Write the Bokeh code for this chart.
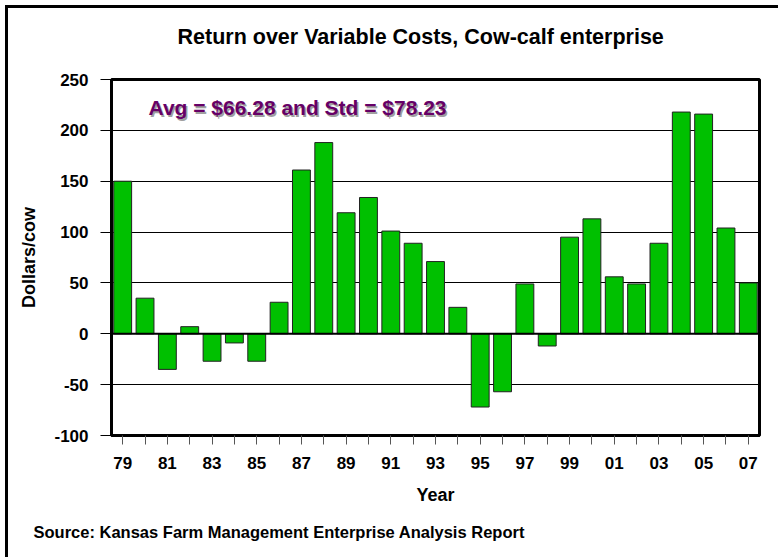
from bokeh.plotting import figure
from bokeh.models import Range1d, FixedTicker, Label, Span, Title
from bokeh.embed import file_html
from bokeh.resources import INLINE

# ---- data ----
years = list(range(1979, 2008))
values = [150, 35, -35, 7, -27, -9, -27, 31, 161, 188, 119, 134, 101, 89, 71, 26,
          -72, -57, 49, -12, 95, 113, 56, 49, 89, 218, 216, 104, 50]
tick_labels = ["79", "", "81", "", "83", "", "85", "", "87", "", "89", "", "91", "",
               "93", "", "95", "", "97", "", "99", "", "01", "", "03", "", "05", "", "07"]
y_ticks = [-100, -50, 0, 50, 100, 150, 200, 250]
y_tick_labels = ["-100", "-50", "0", "50", "100", "150", "200", "250"]

title_text = "Return over Variable Costs, Cow-calf enterprise"
stat_text = "Avg = $66.28 and Std = $78.23"
source_text = "Source: Kansas Farm Management Enterprise Analysis Report"

FONT = "Liberation Sans"

p = figure(width=773, height=552, output_backend="svg", toolbar_location=None,
           x_range=Range1d(1978.5, 2007.5), y_range=Range1d(-100, 250),
           min_border_left=103, min_border_right=22, min_border_top=71,
           min_border_bottom=125)
p.styles = {"margin-left": "5px", "margin-top": "5px",
            "border-left": "3px solid black", "border-top": "3px solid black"}

p.title.text = title_text
p.title.text_font = FONT
p.title.text_font_style = "bold"
p.title.text_font_size = "21.5px"
p.title.text_color = "black"
p.title.align = "left"
p.title.offset = 66
p.title.standoff = 0

# spacer panel between the title and the plot frame
p.add_layout(Title(text=" ", text_font_size="10px", standoff=18), "above")

p.background_fill_color = "white"
p.border_fill_color = "white"
p.outline_line_color = "black"
p.outline_line_width = 3

p.xgrid.grid_line_color = None
p.ygrid.grid_line_color = "black"
p.ygrid.grid_line_width = 1
p.ygrid.ticker = FixedTicker(ticks=y_ticks)

# y axis
p.yaxis.ticker = FixedTicker(ticks=y_ticks)
p.yaxis.major_label_overrides = {v: t for v, t in zip(y_ticks, y_tick_labels)}
p.yaxis.axis_label = "Dollars/cow"
p.yaxis.axis_label_text_font = FONT
p.yaxis.axis_label_text_font_style = "bold"
p.yaxis.axis_label_text_font_size = "18px"
p.yaxis.axis_label_text_color = "black"
p.yaxis.axis_label_standoff = 12
p.yaxis.major_label_text_font = FONT
p.yaxis.major_label_text_font_style = "bold"
p.yaxis.major_label_text_font_size = "17px"
p.yaxis.major_label_text_color = "black"
p.yaxis.major_label_standoff = 12
p.yaxis.major_tick_out = 11
p.yaxis.major_tick_in = 0
p.yaxis.minor_tick_line_color = None
p.yaxis.axis_line_color = "black"
p.yaxis.axis_line_width = 3
p.yaxis.major_tick_line_color = "black"

# x axis
p.xaxis.ticker = FixedTicker(ticks=years)
p.xaxis.major_label_overrides = {y: t for y, t in zip(years, tick_labels)}
p.xaxis.axis_label = "Year"
p.xaxis.axis_label_text_font = FONT
p.xaxis.axis_label_text_font_style = "bold"
p.xaxis.axis_label_text_font_size = "18px"
p.xaxis.axis_label_text_color = "black"
p.xaxis.axis_label_standoff = 13
p.xaxis.major_label_text_font = FONT
p.xaxis.major_label_text_font_style = "bold"
p.xaxis.major_label_text_font_size = "17px"
p.xaxis.major_label_text_color = "black"
p.xaxis.major_label_standoff = 12
p.xaxis.major_tick_out = 9
p.xaxis.major_tick_in = 0
p.xaxis.minor_tick_line_color = None
p.xaxis.axis_line_color = "black"
p.xaxis.axis_line_width = 3
p.xaxis.major_tick_line_color = "#555555"

# bars
p.vbar(x=years, top=values, bottom=0, width=0.8,
       fill_color="#00C000", line_color="#222222", line_width=1)

p.add_layout(Span(location=0, dimension="width", line_color="black", line_width=2))

# stats text with shadow
p.add_layout(Label(x=38.5, y=326.5, x_units="screen", y_units="screen",
                   text=stat_text, text_font=FONT, text_font_style="bold",
                   text_font_size="21px", text_color="#a0a0a0",
                   text_baseline="middle"))
p.add_layout(Label(x=37, y=328, x_units="screen", y_units="screen",
                   text=stat_text, text_font=FONT, text_font_style="bold",
                   text_font_size="21px", text_color="#660066",
                   text_baseline="middle"))

# source text
p.add_layout(Title(text=source_text, align="left", offset=-78, standoff=26,
                   text_font=FONT, text_font_style="bold", text_font_size="16.5px",
                   text_color="black"), "below")

open("out.html", "w").write(file_html(p, INLINE))
